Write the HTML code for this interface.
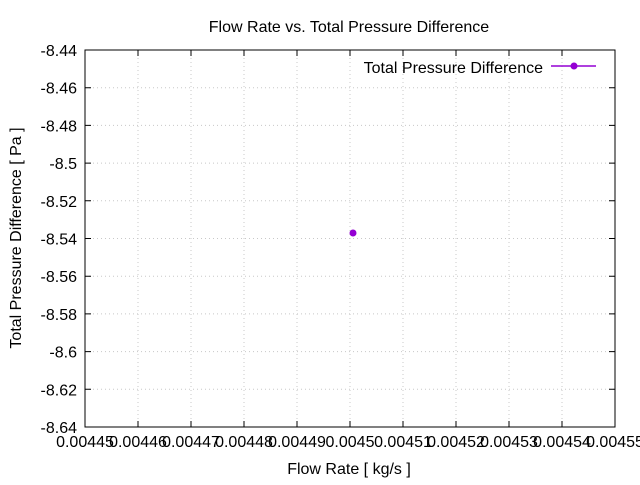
<!DOCTYPE html>
<html><head><style>body{margin:0;background:#fff}</style></head><body>
<svg width="640" height="480" xmlns="http://www.w3.org/2000/svg" font-family="Liberation Sans, sans-serif" font-size="16">
<rect width="640" height="480" fill="#fff"/>
<g stroke="#c8c8c8" stroke-dasharray="1,3" stroke-width="1">
<line x1="85" y1="87.7" x2="615" y2="87.7"/><line x1="85" y1="125.4" x2="615" y2="125.4"/><line x1="85" y1="163.1" x2="615" y2="163.1"/><line x1="85" y1="200.8" x2="615" y2="200.8"/><line x1="85" y1="238.5" x2="615" y2="238.5"/><line x1="85" y1="276.2" x2="615" y2="276.2"/><line x1="85" y1="313.9" x2="615" y2="313.9"/><line x1="85" y1="351.6" x2="615" y2="351.6"/><line x1="85" y1="389.3" x2="615" y2="389.3"/>
<line x1="138" y1="50" x2="138" y2="427"/><line x1="191" y1="50" x2="191" y2="427"/><line x1="244" y1="50" x2="244" y2="427"/><line x1="297" y1="50" x2="297" y2="427"/><line x1="350" y1="50" x2="350" y2="427"/><line x1="403" y1="50" x2="403" y2="427"/><line x1="456" y1="50" x2="456" y2="427"/><line x1="509" y1="50" x2="509" y2="427"/><line x1="562" y1="50" x2="562" y2="427"/>
</g>
<rect x="85" y="50" width="530" height="377" fill="none" stroke="#000"/>
<g stroke="#000">
<path d="M85 87.7h6M85 125.4h6M85 163.1h6M85 200.8h6M85 238.5h6M85 276.2h6M85 313.9h6M85 351.6h6M85 389.3h6M615 87.7h-6M615 125.4h-6M615 163.1h-6M615 200.8h-6M615 238.5h-6M615 276.2h-6M615 313.9h-6M615 351.6h-6M615 389.3h-6"/>
<path d="M138 427v-6M191 427v-6M244 427v-6M297 427v-6M350 427v-6M403 427v-6M456 427v-6M509 427v-6M562 427v-6M138 50v6M191 50v6M244 50v6M297 50v6M350 50v6M403 50v6M456 50v6M509 50v6M562 50v6"/>
</g>
<g text-anchor="end">
<text x="77" y="56">-8.44</text><text x="77" y="93.7">-8.46</text><text x="77" y="131.4">-8.48</text><text x="77" y="169.1">-8.5</text><text x="77" y="206.8">-8.52</text><text x="77" y="244.5">-8.54</text><text x="77" y="282.2">-8.56</text><text x="77" y="319.9">-8.58</text><text x="77" y="357.6">-8.6</text><text x="77" y="395.3">-8.62</text><text x="77" y="433">-8.64</text>
</g>
<g text-anchor="middle">
<text x="85" y="447">0.00445</text><text x="138" y="447">0.00446</text><text x="191" y="447">0.00447</text><text x="244" y="447">0.00448</text><text x="297" y="447">0.00449</text><text x="350" y="447">0.0045</text><text x="403" y="447">0.00451</text><text x="456" y="447">0.00452</text><text x="509" y="447">0.00453</text><text x="562" y="447">0.00454</text><text x="615" y="447">0.00455</text>
<text x="349" y="474">Flow Rate [ kg/s ]</text>
<text x="349" y="32">Flow Rate vs. Total Pressure Difference</text>
<text transform="translate(21,238) rotate(-90)">Total Pressure Difference [ Pa ]</text>
</g>
<text x="543" y="73" text-anchor="end">Total Pressure Difference</text>
<line x1="551" y1="66" x2="596" y2="66" stroke="#9400d3" stroke-width="1.5"/>
<circle cx="574" cy="66" r="3.5" fill="#9400d3"/>
<circle cx="353" cy="233" r="3.5" fill="#9400d3"/>
</svg>
</body></html>
